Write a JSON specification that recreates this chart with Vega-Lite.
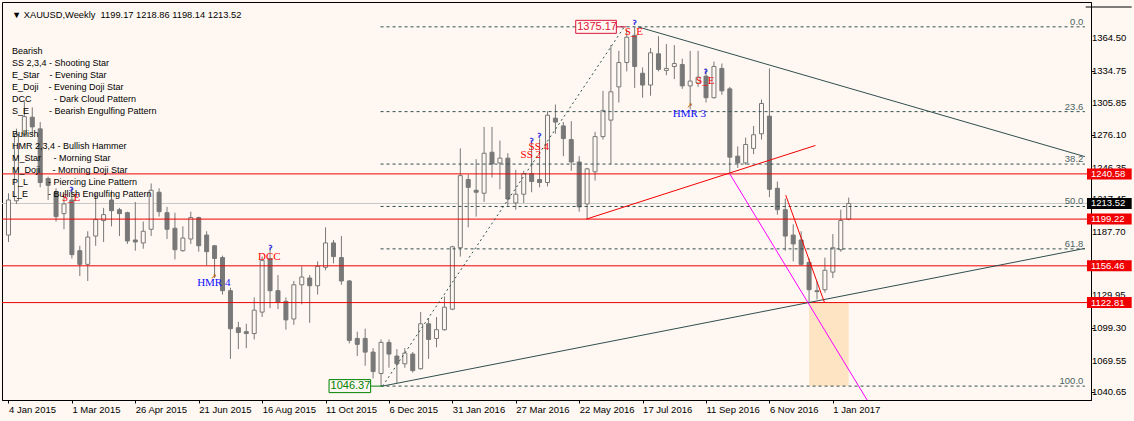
{
"$schema":"https://vega.github.io/schema/vega-lite/v6.json",
"width":1089,"height":398,
"autosize":{"type":"none"},
"padding":{"left":2,"top":2,"right":43,"bottom":21},
"background":"#FFF8F2",
"config":{"view":{"stroke":"#000000","strokeWidth":1,"fill":"#FFF8F2"},"font":"Liberation Sans",
 "axis":{"labelOverlap":false,"labelBound":false,"grid":false}},
"datasets":{
"candles":[
{"w":0,"o":1184.6,"h":1222.9,"l":1178.3,"c":1216.7},
{"w":1,"o":1216.0,"h":1282.0,"l":1213.0,"c":1277.0},
{"w":2,"o":1277.0,"h":1307.0,"l":1275.0,"c":1293.0},
{"w":3,"o":1292.5,"h":1301.4,"l":1276.4,"c":1283.6},
{"w":4,"o":1281.8,"h":1288.0,"l":1228.3,"c":1232.7},
{"w":5,"o":1236.3,"h":1238.1,"l":1216.7,"c":1230.1},
{"w":6,"o":1223.8,"h":1227.4,"l":1197.0,"c":1201.5},
{"w":7,"o":1204.2,"h":1219.3,"l":1189.9,"c":1213.1},
{"w":8,"o":1216.7,"h":1227.4,"l":1163.2,"c":1166.7},
{"w":9,"o":1170.3,"h":1174.8,"l":1147.1,"c":1157.8},
{"w":10,"o":1157.8,"h":1188.1,"l":1142.6,"c":1182.8},
{"w":11,"o":1183.7,"h":1222.9,"l":1174.8,"c":1198.8},
{"w":12,"o":1197.9,"h":1209.5,"l":1178.3,"c":1203.3},
{"w":13,"o":1216.7,"h":1225.6,"l":1192.6,"c":1206.9},
{"w":14,"o":1207.8,"h":1209.5,"l":1183.7,"c":1204.2},
{"w":15,"o":1205.1,"h":1206.0,"l":1176.5,"c":1179.2},
{"w":16,"o":1180.1,"h":1214.9,"l":1170.3,"c":1178.3},
{"w":17,"o":1177.4,"h":1197.0,"l":1172.1,"c":1188.1},
{"w":18,"o":1189.9,"h":1231.8,"l":1183.7,"c":1225.6},
{"w":19,"o":1223.8,"h":1227.4,"l":1201.5,"c":1206.0},
{"w":20,"o":1205.1,"h":1210.4,"l":1181.0,"c":1189.9},
{"w":21,"o":1190.8,"h":1205.1,"l":1162.3,"c":1171.2},
{"w":22,"o":1170.3,"h":1192.6,"l":1169.4,"c":1181.9},
{"w":23,"o":1181.0,"h":1206.0,"l":1176.5,"c":1200.6},
{"w":24,"o":1200.6,"h":1201.5,"l":1169.4,"c":1174.8},
{"w":25,"o":1184.6,"h":1188.1,"l":1156.9,"c":1169.4},
{"w":26,"o":1174.8,"h":1175.6,"l":1145.3,"c":1163.2},
{"w":27,"o":1164.0,"h":1165.8,"l":1130.1,"c":1133.7},
{"w":28,"o":1133.7,"h":1136.4,"l":1071.3,"c":1098.9},
{"w":29,"o":1099.8,"h":1105.2,"l":1080.2,"c":1095.4},
{"w":30,"o":1096.2,"h":1103.4,"l":1081.1,"c":1094.5},
{"w":31,"o":1094.5,"h":1127.5,"l":1089.1,"c":1115.9},
{"w":32,"o":1114.1,"h":1164.9,"l":1109.6,"c":1161.4},
{"w":33,"o":1163.2,"h":1172.1,"l":1117.7,"c":1133.7},
{"w":34,"o":1133.7,"h":1148.0,"l":1116.8,"c":1123.0},
{"w":35,"o":1123.9,"h":1127.5,"l":1098.0,"c":1107.0},
{"w":36,"o":1107.8,"h":1142.6,"l":1102.5,"c":1139.1},
{"w":37,"o":1139.1,"h":1156.0,"l":1121.2,"c":1146.2},
{"w":38,"o":1145.3,"h":1148.0,"l":1104.3,"c":1138.2},
{"w":39,"o":1138.2,"h":1160.5,"l":1130.1,"c":1156.0},
{"w":40,"o":1155.1,"h":1191.7,"l":1152.4,"c":1177.4},
{"w":41,"o":1177.4,"h":1180.1,"l":1158.7,"c":1164.9},
{"w":42,"o":1164.0,"h":1183.7,"l":1139.1,"c":1142.6},
{"w":43,"o":1142.6,"h":1143.5,"l":1085.5,"c":1088.2},
{"w":44,"o":1090.0,"h":1096.2,"l":1073.9,"c":1084.6},
{"w":45,"o":1090.0,"h":1098.9,"l":1065.0,"c":1077.5},
{"w":46,"o":1077.5,"h":1081.1,"l":1053.4,"c":1059.7},
{"w":47,"o":1057.9,"h":1089.1,"l":1046.37,"c":1086.4},
{"w":48,"o":1086.4,"h":1089.1,"l":1063.2,"c":1075.7},
{"w":49,"o":1073.9,"h":1080.2,"l":1049.0,"c":1066.8},
{"w":50,"o":1066.8,"h":1081.1,"l":1063.2,"c":1076.6},
{"w":51,"o":1075.7,"h":1077.5,"l":1058.8,"c":1060.6},
{"w":52,"o":1062.3,"h":1114.1,"l":1061.5,"c":1103.4},
{"w":53,"o":1103.4,"h":1108.7,"l":1071.3,"c":1089.1},
{"w":54,"o":1090.0,"h":1109.6,"l":1081.9,"c":1098.0},
{"w":55,"o":1098.0,"h":1128.4,"l":1097.1,"c":1118.6},
{"w":56,"o":1116.8,"h":1174.8,"l":1115.9,"c":1173.9},
{"w":57,"o":1173.0,"h":1263.9,"l":1164.9,"c":1239.0},
{"w":58,"o":1235.4,"h":1239.9,"l":1191.7,"c":1228.3},
{"w":59,"o":1225.6,"h":1254.1,"l":1201.5,"c":1223.8},
{"w":60,"o":1222.9,"h":1283.6,"l":1214.9,"c":1259.5},
{"w":61,"o":1260.4,"h":1283.6,"l":1237.2,"c":1249.7},
{"w":62,"o":1250.6,"h":1271.1,"l":1226.5,"c":1255.0},
{"w":63,"o":1255.0,"h":1259.5,"l":1211.3,"c":1217.6},
{"w":64,"o":1214.0,"h":1244.3,"l":1207.8,"c":1222.0},
{"w":65,"o":1222.0,"h":1243.4,"l":1214.0,"c":1240.8},
{"w":66,"o":1240.8,"h":1269.3,"l":1223.8,"c":1233.6},
{"w":67,"o":1235.4,"h":1272.9,"l":1228.3,"c":1232.7},
{"w":68,"o":1232.7,"h":1297.9,"l":1229.2,"c":1294.3},
{"w":69,"o":1291.6,"h":1304.1,"l":1277.3,"c":1288.0},
{"w":70,"o":1284.5,"h":1288.0,"l":1256.8,"c":1272.9},
{"w":71,"o":1272.0,"h":1288.9,"l":1243.4,"c":1251.5},
{"w":72,"o":1251.5,"h":1256.8,"l":1206.0,"c":1210.4},
{"w":73,"o":1213.1,"h":1246.1,"l":1199.2,"c":1245.2},
{"w":74,"o":1242.5,"h":1279.1,"l":1234.5,"c":1274.7},
{"w":75,"o":1274.7,"h":1316.6,"l":1272.0,"c":1298.7},
{"w":76,"o":1289.8,"h":1358.5,"l":1249.7,"c":1315.7},
{"w":77,"o":1320.2,"h":1353.2,"l":1305.9,"c":1342.5},
{"w":78,"o":1342.5,"h":1372.8,"l":1334.4,"c":1365.7},
{"w":79,"o":1367.4,"h":1375.17,"l":1319.3,"c":1338.9},
{"w":80,"o":1332.7,"h":1338.0,"l":1310.3,"c":1321.9},
{"w":81,"o":1321.9,"h":1355.8,"l":1312.1,"c":1351.4},
{"w":82,"o":1350.5,"h":1366.6,"l":1334.4,"c":1336.2},
{"w":83,"o":1335.3,"h":1359.4,"l":1330.9,"c":1337.1},
{"w":84,"o":1338.9,"h":1358.5,"l":1327.3,"c":1341.6},
{"w":85,"o":1340.7,"h":1346.0,"l":1318.4,"c":1321.1},
{"w":86,"o":1321.1,"h":1353.2,"l":1299.6,"c":1325.5},
{"w":87,"o":1323.7,"h":1353.2,"l":1320.2,"c":1329.1},
{"w":88,"o":1330.0,"h":1337.1,"l":1305.9,"c":1310.3},
{"w":89,"o":1310.3,"h":1343.4,"l":1309.5,"c":1338.9},
{"w":90,"o":1337.1,"h":1341.6,"l":1313.0,"c":1316.6},
{"w":91,"o":1318.4,"h":1320.2,"l":1240.58,"c":1255.9},
{"w":92,"o":1256.8,"h":1265.7,"l":1246.1,"c":1250.6},
{"w":93,"o":1250.6,"h":1273.8,"l":1248.8,"c":1267.5},
{"w":94,"o":1263.9,"h":1284.5,"l":1258.6,"c":1276.4},
{"w":95,"o":1277.3,"h":1308.6,"l":1272.0,"c":1305.0},
{"w":96,"o":1293.4,"h":1337.1,"l":1219.3,"c":1226.5},
{"w":97,"o":1227.4,"h":1233.6,"l":1203.3,"c":1207.8},
{"w":98,"o":1207.8,"h":1218.0,"l":1170.3,"c":1183.7},
{"w":99,"o":1184.6,"h":1194.4,"l":1160.5,"c":1176.5},
{"w":100,"o":1180.1,"h":1188.1,"l":1156.9,"c":1157.8},
{"w":101,"o":1159.6,"h":1163.2,"l":1122.81,"c":1134.6},
{"w":102,"o":1133.7,"h":1142.6,"l":1125.7,"c":1132.8},
{"w":103,"o":1134.6,"h":1164.0,"l":1131.9,"c":1152.4},
{"w":104,"o":1150.7,"h":1185.5,"l":1145.3,"c":1173.0},
{"w":105,"o":1171.2,"h":1207.8,"l":1169.4,"c":1197.9},
{"w":106,"o":1199.17,"h":1218.86,"l":1198.14,"c":1213.52}
],
"yticks":[
{"p":1040.65},{"p":1069.55},{"p":1099.30},{"p":1129.95},{"p":1158.80},{"p":1187.70},
{"p":1217.45},{"p":1246.35},{"p":1276.10},{"p":1305.85},{"p":1334.75},{"p":1364.50}
],
"fib":[
{"lv":"0.0","p":1375.17},{"lv":"23.6","p":1297.57},{"lv":"38.2","p":1249.57},
{"lv":"50.0","p":1210.77},{"lv":"61.8","p":1171.97},{"lv":"100.0","p":1046.37}
],
"levels":[
{"p":1240.58,"kind":"level"},{"p":1213.52,"kind":"last"},{"p":1199.22,"kind":"level"},
{"p":1156.46,"kind":"level"},{"p":1122.81,"kind":"level"}
],
"trend":[
{"id":"support","w":47.19,"p":1046.37},{"id":"support","w":135.8,"p":1172.4},
{"id":"resistance","w":79.4,"p":1375.17},{"id":"resistance","w":135.8,"p":1256.4}
],
"fibline":[
{"id":"fib","w":47.19,"p":1046.37},{"id":"fib","w":77.7,"p":1375.17}
],
"redtrend":[
{"id":"r1","w":72.9,"p":1199.22},{"id":"r1","w":101.8,"p":1266.6},
{"id":"r2","w":98.06,"p":1221.1},{"id":"r2","w":102.94,"p":1123.0}
],
"magenta":[
{"id":"m","w":91.0,"p":1240.58},{"id":"m","w":109.0,"p":1025.6}
],
"boxes":[
{"kind":"high","text":"1375.17","p":1375.17,"w0":71.56,"w1":76.69,"wa":77.94},
{"kind":"low","text":"1046.37","p":1046.37,"w0":40.44,"w1":45.69,"wa":47.19}
],
"patterns":[
{"w":7.9,"p":1218.5,"text":"S_E","kind":"bear"},
{"w":32.9,"p":1164.9,"text":"DCC","kind":"bear"},
{"w":25.9,"p":1140.9,"text":"HMR 4","kind":"bull"},
{"w":65.9,"p":1257.7,"text":"SS 2","kind":"bear"},
{"w":66.9,"p":1264.8,"text":"SS 4","kind":"bear"},
{"w":78.9,"p":1370.1,"text":"S_E","kind":"bear"},
{"w":87.9,"p":1325.5,"text":"S_E","kind":"bear"},
{"w":85.9,"p":1295.2,"text":"HMR 3","kind":"bull"}
],
"signals":[
{"w":7.94,"p":1225.6,"kind":"bear"},
{"w":33.06,"p":1173.0,"kind":"bear"},
{"w":66.0,"p":1271.0,"kind":"bear"},
{"w":67.0,"p":1275.0,"kind":"bear"},
{"w":79.0,"p":1378.8,"kind":"bear"},
{"w":87.97,"p":1334.2,"kind":"bear"},
{"w":25.9,"p":1146.2,"kind":"bull"},
{"w":85.94,"p":1303.1,"kind":"bull"}
]
},
"layer":[
{"data":{"values":[{"w0":101,"w1":106,"p0":1122.81,"p1":1046.37}]},
 "mark":{"type":"rect","fill":"#FFE4C4"},
 "encoding":{
  "x":{"field":"w0","type":"quantitative","scale":{"domain":[-0.1875,135.9375],"nice":false,"zero":false},
   "axis":{"values":[0,8,16,24,32,40,48,56,64,72,80,88,96,104],
    "labelExpr":"utcFormat(utc(2015, 0, 4 + datum.value * 7), '%-d %b %Y')",
    "labelAlign":"left","labelBaseline":"middle","labelPadding":6,"tickSize":3,"labelFontSize":9.5,"labelFont":"Liberation Sans",
    "labelColor":"#000000","tickColor":"#000000","domainColor":"#000000","grid":false,
    "labelFlush":false,"labelOverlap":false,"title":null}},
  "x2":{"field":"w1"},
  "y":{"field":"p0","type":"quantitative","scale":{"domain":[1038.24,1393.32],"nice":false,"zero":false},
   "axis":{"orient":"right","values":[1040.65,1069.55,1099.30,1129.95,1158.80,1187.70,1217.45,1246.35,1276.10,1305.85,1334.75,1364.50],
    "labels":false,"tickSize":3,"tickColor":"#000000","domainColor":"#000000","grid":false,"title":null}},
  "y2":{"field":"p1"}}},
{"data":{"name":"yticks"},
 "mark":{"type":"text","align":"left","baseline":"middle","fontSize":9.5,"color":"#000000","clip":false},
 "encoding":{
  "x":{"datum":136.69,"type":"quantitative","title":null,"scale":{"domain":[-0.1875,135.9375],"nice":false,"zero":false}},
  "y":{"field":"p","type":"quantitative","title":null,"scale":{"domain":[1038.24,1393.32],"nice":false,"zero":false}},
  "text":{"field":"p","format":".2f"}}},
{"data":{"name":"levels"},"transform":[{"filter":"datum.kind == 'last'"}],
 "mark":{"type":"rule","color":"#C8C8C8","strokeWidth":1},
 "encoding":{"y":{"field":"p","type":"quantitative","title":null,"scale":{"domain":[1038.24,1393.32],"nice":false,"zero":false}}}},
{"data":{"name":"candles"},
 "mark":{"type":"rule","color":"#787878","strokeWidth":1},
 "encoding":{
  "x":{"field":"w","type":"quantitative","title":null,"scale":{"domain":[-0.1875,135.9375],"nice":false,"zero":false}},
  "y":{"field":"l","type":"quantitative","title":null,"scale":{"domain":[1038.24,1393.32],"nice":false,"zero":false}},
  "y2":{"field":"h"}}},
{"data":{"name":"candles"},
 "mark":{"type":"bar","size":4,"stroke":"#787878","strokeWidth":1},
 "encoding":{
  "x":{"field":"w","type":"quantitative","title":null,"scale":{"domain":[-0.1875,135.9375],"nice":false,"zero":false}},
  "y":{"field":"o","type":"quantitative","title":null,"scale":{"domain":[1038.24,1393.32],"nice":false,"zero":false}},
  "y2":{"field":"c"},
  "fill":{"condition":{"test":"datum.c < datum.o","value":"#787878"},"value":"#FFF8F2"}}},
{"data":{"name":"fib"},
 "mark":{"type":"rule","color":"#2F4F4F","strokeWidth":1,"strokeDash":[3,3]},
 "encoding":{
  "x":{"datum":46.94,"type":"quantitative","title":null,"scale":{"domain":[-0.1875,135.9375],"nice":false,"zero":false}},
  "x2":{"datum":135.8},
  "y":{"field":"p","type":"quantitative","title":null,"scale":{"domain":[1038.24,1393.32],"nice":false,"zero":false}}}},
{"data":{"name":"fib"},
 "mark":{"type":"text","align":"right","baseline":"alphabetic","dy":-2,"fontSize":9.5,"color":"#4A6464"},
 "encoding":{
  "x":{"datum":135.6,"type":"quantitative","title":null,"scale":{"domain":[-0.1875,135.9375],"nice":false,"zero":false}},
  "y":{"field":"p","type":"quantitative","title":null,"scale":{"domain":[1038.24,1393.32],"nice":false,"zero":false}},
  "text":{"field":"lv"}}},
{"data":{"name":"levels"},"transform":[{"filter":"datum.kind == 'level'"}],
 "mark":{"type":"rule","color":"#EE0000","strokeWidth":1},
 "encoding":{"y":{"field":"p","type":"quantitative","title":null,"scale":{"domain":[1038.24,1393.32],"nice":false,"zero":false}}}},
{"data":{"name":"trend"},
 "mark":{"type":"line","color":"#2F4F4F","strokeWidth":1},
 "encoding":{
  "x":{"field":"w","type":"quantitative","title":null,"scale":{"domain":[-0.1875,135.9375],"nice":false,"zero":false}},
  "y":{"field":"p","type":"quantitative","title":null,"scale":{"domain":[1038.24,1393.32],"nice":false,"zero":false}},
  "detail":{"field":"id"}}},
{"data":{"name":"fibline"},
 "mark":{"type":"line","color":"#2F4F4F","strokeWidth":1,"strokeDash":[2,3]},
 "encoding":{
  "x":{"field":"w","type":"quantitative","title":null,"scale":{"domain":[-0.1875,135.9375],"nice":false,"zero":false}},
  "y":{"field":"p","type":"quantitative","title":null,"scale":{"domain":[1038.24,1393.32],"nice":false,"zero":false}}}},
{"data":{"name":"redtrend"},
 "mark":{"type":"line","color":"#F20000","strokeWidth":1},
 "encoding":{
  "x":{"field":"w","type":"quantitative","title":null,"scale":{"domain":[-0.1875,135.9375],"nice":false,"zero":false}},
  "y":{"field":"p","type":"quantitative","title":null,"scale":{"domain":[1038.24,1393.32],"nice":false,"zero":false}},
  "detail":{"field":"id"}}},
{"data":{"name":"magenta"},
 "mark":{"type":"line","color":"#FF00FF","strokeWidth":1,"clip":true},
 "encoding":{
  "x":{"field":"w","type":"quantitative","title":null,"scale":{"domain":[-0.1875,135.9375],"nice":false,"zero":false}},
  "y":{"field":"p","type":"quantitative","title":null,"scale":{"domain":[1038.24,1393.32],"nice":false,"zero":false}}}},
{"data":{"name":"boxes"},
 "mark":{"type":"rule","strokeWidth":1},
 "encoding":{
  "x":{"field":"w1","type":"quantitative","title":null,"scale":{"domain":[-0.1875,135.9375],"nice":false,"zero":false}},
  "x2":{"field":"wa"},
  "y":{"field":"p","type":"quantitative","title":null,"scale":{"domain":[1038.24,1393.32],"nice":false,"zero":false}},
  "color":{"condition":{"test":"datum.kind == 'high'","value":"#DC143C"},"value":"#008000"}}},
{"data":{"name":"boxes"},
 "mark":{"type":"bar","orient":"horizontal","size":13,"fill":"#FFF8F2","strokeWidth":1},
 "encoding":{
  "x":{"field":"w0","type":"quantitative","title":null,"scale":{"domain":[-0.1875,135.9375],"nice":false,"zero":false}},
  "x2":{"field":"w1"},
  "y":{"field":"p","type":"quantitative","title":null,"scale":{"domain":[1038.24,1393.32],"nice":false,"zero":false}},
  "stroke":{"condition":{"test":"datum.kind == 'high'","value":"#DC143C"},"value":"#008000"}}},
{"data":{"name":"boxes"},
 "mark":{"type":"text","align":"left","baseline":"middle","dx":1.5,"fontSize":11},
 "encoding":{
  "x":{"field":"w0","type":"quantitative","title":null,"scale":{"domain":[-0.1875,135.9375],"nice":false,"zero":false}},
  "y":{"field":"p","type":"quantitative","title":null,"scale":{"domain":[1038.24,1393.32],"nice":false,"zero":false}},
  "text":{"field":"text"},
  "color":{"condition":{"test":"datum.kind == 'high'","value":"#DC143C"},"value":"#008000"}}},
{"data":{"name":"levels"},
 "mark":{"type":"bar","orient":"horizontal","size":11,"clip":false},
 "encoding":{
  "x":{"datum":136.06,"type":"quantitative","title":null,"scale":{"domain":[-0.1875,135.9375],"nice":false,"zero":false}},
  "x2":{"datum":141.7},
  "y":{"field":"p","type":"quantitative","title":null,"scale":{"domain":[1038.24,1393.32],"nice":false,"zero":false}},
  "fill":{"condition":{"test":"datum.kind == 'last'","value":"#000000"},"value":"#F00000"}}},
{"data":{"name":"levels"},
 "mark":{"type":"text","align":"left","baseline":"middle","fontSize":9.5,"color":"#FFFFFF","clip":false},
 "encoding":{
  "x":{"datum":136.56,"type":"quantitative","title":null,"scale":{"domain":[-0.1875,135.9375],"nice":false,"zero":false}},
  "y":{"field":"p","type":"quantitative","title":null,"scale":{"domain":[1038.24,1393.32],"nice":false,"zero":false}},
  "text":{"field":"p","format":".2f"}}},
{"data":{"name":"patterns"},
 "mark":{"type":"text","align":"center","baseline":"middle","fontSize":11,"font":"Liberation Serif"},
 "encoding":{
  "x":{"field":"w","type":"quantitative","title":null,"scale":{"domain":[-0.1875,135.9375],"nice":false,"zero":false}},
  "y":{"field":"p","type":"quantitative","title":null,"scale":{"domain":[1038.24,1393.32],"nice":false,"zero":false}},
  "text":{"field":"text"},
  "color":{"condition":{"test":"datum.kind == 'bull'","value":"#1010FF"},"value":"#FF0000"}}},
{"data":{"name":"signals"},
 "mark":{"type":"text","align":"center","baseline":"middle","fontSize":7,"font":"DejaVu Sans","fontWeight":"bold"},
 "encoding":{
  "x":{"field":"w","type":"quantitative","title":null,"scale":{"domain":[-0.1875,135.9375],"nice":false,"zero":false}},
  "y":{"field":"p","type":"quantitative","title":null,"scale":{"domain":[1038.24,1393.32],"nice":false,"zero":false}},
  "text":{"condition":{"test":"datum.kind == 'bull'","value":"\u2197"},"value":"\u0294"},
  "color":{"condition":{"test":"datum.kind == 'bull'","value":"#C06000"},"value":"#3030E0"}}},
{"data":{"values":[{}]},
 "mark":{"type":"text","align":"left","baseline":"alphabetic","lineHeight":12,"fontSize":9,"color":"#000000",
  "text":["Bearish","SS 2,3,4 - Shooting Star","E_Star\u00a0\u00a0\u00a0\u00a0- Evening Star","E_Doji\u00a0\u00a0\u00a0\u00a0- Evening Doji Star","DCC\u00a0\u00a0\u00a0\u00a0\u00a0\u00a0\u00a0\u00a0\u00a0- Dark Cloud Pattern","S_E\u00a0\u00a0\u00a0\u00a0\u00a0\u00a0\u00a0\u00a0- Bearish Engulfing Pattern"]},
 "encoding":{
  "x":{"datum":0.44,"type":"quantitative","title":null,"scale":{"domain":[-0.1875,135.9375],"nice":false,"zero":false}},
  "y":{"datum":1349.95,"type":"quantitative","title":null,"scale":{"domain":[1038.24,1393.32],"nice":false,"zero":false}}}},
{"data":{"values":[{}]},
 "mark":{"type":"text","align":"left","baseline":"alphabetic","lineHeight":12,"fontSize":9,"color":"#000000",
  "text":["Bullish","HMR 2,3,4 - Bullish Hammer","M_Star\u00a0\u00a0\u00a0\u00a0\u00a0- Morning Star","M_Doji\u00a0\u00a0\u00a0\u00a0\u00a0- Morning Doji Star","P_L\u00a0\u00a0\u00a0\u00a0\u00a0\u00a0\u00a0\u00a0- Piercing Line Pattern","L_E\u00a0\u00a0\u00a0\u00a0\u00a0\u00a0\u00a0\u00a0- Bullish Engulfing Pattern"]},
 "encoding":{
  "x":{"datum":0.44,"type":"quantitative","title":null,"scale":{"domain":[-0.1875,135.9375],"nice":false,"zero":false}},
  "y":{"datum":1274.66,"type":"quantitative","title":null,"scale":{"domain":[1038.24,1393.32],"nice":false,"zero":false}}}},
{"data":{"values":[{}]},
 "mark":{"type":"text","align":"left","baseline":"alphabetic","fontSize":9.3,"color":"#000000",
  "text":"\u25bc XAUUSD,Weekly\u00a0\u00a01199.17 1218.86 1198.14 1213.52"},
 "encoding":{
  "x":{"datum":0.44,"type":"quantitative","title":null,"scale":{"domain":[-0.1875,135.9375],"nice":false,"zero":false}},
  "y":{"datum":1383.15,"type":"quantitative","title":null,"scale":{"domain":[1038.24,1393.32],"nice":false,"zero":false}}}},
{"data":{"values":[{}]},
 "mark":{"type":"rule","color":"#000000","strokeWidth":1,"clip":false},
 "encoding":{
  "x":{"datum":135.9,"type":"quantitative","title":null,"scale":{"domain":[-0.1875,135.9375],"nice":false,"zero":false}},
  "x2":{"datum":141.7},
  "y":{"datum":1393.32,"type":"quantitative","title":null,"scale":{"domain":[1038.24,1393.32],"nice":false,"zero":false}}}}
]
}
